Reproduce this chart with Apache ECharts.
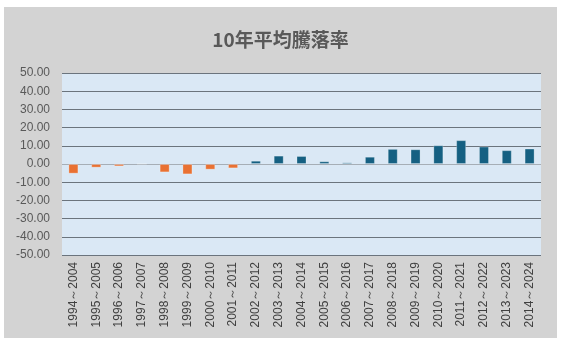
<!DOCTYPE html>
<html>
<head>
<meta charset="utf-8">
<script src="https://cdn.jsdelivr.net/npm/echarts@6/dist/echarts.min.js"></script>
<style>
html,body{margin:0;padding:0;background:#fff;}
#c{width:561px;height:346px;}
</style>
</head>
<body>
<div id="c"></div>
<script>
const title = '10年平均騰落率';
const categories = ['1994～2004','1995～2005','1996～2006','1997～2007','1998～2008','1999～2009','2000～2010','2001～2011','2002～2012','2003～2013','2004～2014','2005～2015','2006～2016','2007～2017','2008～2018','2009～2019','2010～2020','2011～2021','2012～2022','2013～2023','2014～2024'];
const values = [-5.3,-2.0,-1.3,0.1,-4.6,-5.7,-3.1,-2.4,1.8,4.6,4.4,1.5,0.9,4.0,8.3,8.1,10.3,13.1,9.6,7.6,8.5];
const yMin = -50, yMax = 50, yStep = 10;

const chart = echarts.init(document.getElementById('c'));
chart.setOption({
  backgroundColor: '#ffffff',
  animation: false,
  graphic: [{
    type: 'rect', z: -10, silent: true,
    shape: {x: 4, y: 7, width: 553, height: 331},
    style: {fill: '#d3d3d3'}
  }],
  title: {
    text: title, left: 'center', top: 25,
    textStyle: {fontFamily: 'Noto Sans CJK JP', fontSize: 19, fontWeight: 'bold', color: '#595959'}
  },
  grid: {
    left: 62, right: 20, top: 73, bottom: 91,
    show: true, backgroundColor: '#dae8f5', borderWidth: 0
  },
  xAxis: {
    type: 'category', data: categories,
    axisLine: {show: false, onZero: false},
    axisTick: {show: false},
    axisLabel: {
      interval: 0, rotate: 90, margin: 7,
      fontFamily: 'Liberation Sans', fontSize: 12, color: '#404040'
    }
  },
  yAxis: {
    type: 'value', min: yMin, max: yMax, interval: yStep,
    axisLine: {show: false}, axisTick: {show: false},
    axisLabel: {
      formatter: v => v.toFixed(2), margin: 12,
      fontFamily: 'Liberation Sans', fontSize: 12, color: '#595959'
    },
    splitLine: {lineStyle: {color: '#6b747d', width: 1}}
  },
  series: [{
    type: 'bar', data: values, barWidth: 10,
    itemStyle: {
      color: p => p.value < 0 ? '#e97132' : '#156082',
      borderColor: 'rgba(255,255,255,0.25)', borderWidth: 1
    },
    markLine: {
      silent: true, symbol: 'none', label: {show: false},
      lineStyle: {color: '#a6aeb6', type: 'solid', width: 1},
      data: [{yAxis: 0}], z: 1
    }
  }]
});
</script>
</body>
</html>
